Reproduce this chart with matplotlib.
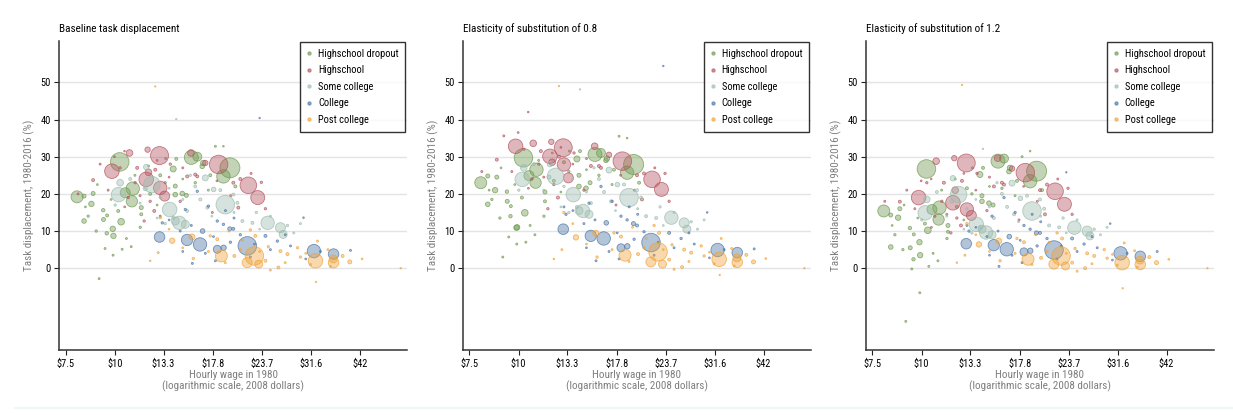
import numpy as np
import matplotlib
matplotlib.use("Agg")
import matplotlib.pyplot as plt
from matplotlib.lines import Line2D
from matplotlib import font_manager

installed = {f.name for f in font_manager.fontManager.ttflist}
narrow = [f for f in ["Liberation Sans Narrow", "Roboto Condensed", "Open Sans Condensed"] if f in installed]
plt.rcParams["font.family"] = narrow + ["Liberation Sans", "DejaVu Sans"]
base = 7.5 if narrow else 6.5

groups = ["Highschool dropout", "Highschool", "Some college", "College", "Post college"]
colors = ["#6e9a4f", "#b5525f", "#9cbcae", "#4a74a5", "#f0a33a"]
titles = ["Baseline task displacement", "Elasticity of substitution of 0.8",
          "Elasticity of substitution of 1.2"]
wage_ticks = [7.5, 10, 13.3, 17.8, 23.7, 31.6, 42]

# log hourly wage 1980, employment share, task displacement (baseline, sigma .8, sigma 1.2)
dropout_wage = [2.081, 2.331, 2.407, 2.402, 2.363, 2.750, 2.785, 2.976, 2.938, 2.339, 2.290, 2.122,
                2.165, 2.122, 2.236, 2.255, 2.294, 2.175, 2.234, 2.257, 2.322, 2.457, 2.457, 2.398,
                2.345, 2.245, 2.662, 2.721, 2.814, 2.891, 2.938, 2.656, 2.656, 2.697, 2.644, 2.820,
                2.210, 2.292, 2.146, 2.193, 2.509, 2.568, 2.597, 2.773, 2.861, 3.008, 2.451,
                2.200, 2.280, 2.420, 2.500, 2.600, 2.700, 2.850, 2.130, 2.370, 2.550]
dropout_emp = [3.6, 8.6, 4.5, 3.2, 2.5, 4.9, 2.0, 10.0, 4.5, 1.1, 0.73, 0.4,
               0.73, 0.53, 0.4, 0.29, 0.73, 0.4, 0.29, 0.22, 0.22, 0.4, 0.22, 0.1,
               0.1, 0.1, 0.22, 0.4, 0.53, 0.1, 0.064, 0.4, 0.53, 0.53, 0.9, 0.73,
               0.1, 0.1, 0.14, 0.14, 0.22, 0.22, 0.14, 0.14, 0.22, 0.22, 0.14,
               0.08, 0.08, 0.1, 0.08, 0.1, 0.08, 0.1, 0.08, 0.1, 0.08]
dropout_base = [19.2, 28.6, 21.4, 18.0, 20.3, 29.8, 30.0, 27.0, 24.7, 12.5, 10.6, 19.4,
                17.3, 12.7, 13.1, 9.4, 8.7, 20.1, 15.6, 14.2, 15.4, 16.3, 14.5, 5.8,
                5.1, 5.3, 29.4, 19.6, 27.4, 32.8, 32.8, 22.1, 19.8, 20.1, 26.7, 28.3,
                -2.8, 3.5, 14.0, 10.0, 20.0, 25.0, 23.0, 23.0, 25.0, 22.0, 11.0,
                22.5, 18.5, 25.0, 27.5, 29.5, 24.0, 21.0, 16.5, 8.0, 17.0]
dropout_s08 = [23.0, 29.7, 26.5, 23.0, 24.9, 30.6, 31.0, 27.9, 25.7, 14.9, 10.9, 24.8,
               21.0, 17.2, 18.0, 14.0, 11.0, 24.5, 20.6, 16.7, 19.0, 20.5, 18.0, 9.0,
               7.0, 8.4, 31.5, 23.0, 29.0, 35.5, 35.0, 25.0, 22.0, 21.5, 29.4, 29.5,
               3.0, 6.5, 18.5, 13.5, 23.5, 28.5, 26.0, 25.0, 26.5, 23.0, 14.0,
               27.0, 22.5, 29.0, 31.0, 31.5, 26.5, 22.5, 21.0, 11.5, 20.5]
dropout_s12 = [15.4, 26.7, 16.3, 13.1, 15.8, 28.8, 29.5, 26.1, 23.4, 10.2, 7.0, 14.3,
               13.6, 5.7, 5.5, 2.4, 3.5, 16.0, 10.8, 9.1, 12.0, 11.5, 9.8, 2.0,
               0.5, -0.2, 27.0, 17.0, 26.0, 30.0, 31.5, 19.5, 18.0, 17.5, 25.2, 27.0,
               -14.3, -6.6, 9.0, 5.0, 16.5, 21.5, 20.0, 21.5, 23.5, 21.0, 8.0,
               17.0, 13.5, 21.0, 24.0, 27.0, 22.0, 19.5, 11.5, 4.0, 13.0]

hs_wage = [2.285, 2.388, 2.564, 2.486, 2.568, 2.594, 2.499, 2.748, 2.910, 3.084, 3.139, 2.494,
           2.832, 2.175, 2.433, 2.533, 2.474, 2.785, 2.539, 2.996, 2.421, 2.726, 2.773, 3.037,
           3.160, 3.025, 2.216, 2.333, 2.627, 2.685, 2.873, 2.380, 2.087, 3.184, 2.509, 2.263,
           2.359, 2.300, 2.450, 2.620, 2.700, 2.900, 2.980, 2.550, 3.100, 2.360]
hs_emp = [5.3, 1.1, 8.1, 5.3, 4.5, 2.5, 1.1, 1.1, 8.6, 6.9, 4.9, 0.73,
          0.73, 0.22, 0.22, 0.22, 0.14, 0.22, 0.22, 0.22, 0.14, 0.22, 0.22, 0.22,
          0.14, 0.22, 0.1, 0.14, 0.14, 0.14, 0.1, 0.14, 0.1, 0.14, 0.14, 0.1,
          0.064, 0.08, 0.1, 0.08, 0.1, 0.08, 0.1, 0.08, 0.1, 0.08]
hs_base = [26.1, 31.0, 30.3, 23.9, 21.6, 19.4, 25.8, 31.0, 27.9, 22.3, 19.0, 31.9,
           28.3, 23.7, 27.0, 15.4, 12.7, 24.7, 26.5, 23.0, 23.0, 24.7, 25.2, 24.0,
           23.1, 16.3, 28.0, 27.0, 28.0, 18.0, 15.0, 19.0, 20.0, 16.0, 18.0, 21.0,
           31.5, 30.0, 19.5, 24.5, 27.0, 23.5, 19.5, 29.0, 25.5, 16.5]
hs_s08 = [32.8, 33.6, 32.4, 30.1, 27.9, 24.3, 28.5, 32.8, 28.8, 23.9, 21.2, 34.0,
          30.5, 29.2, 31.5, 19.0, 16.0, 27.0, 30.0, 25.0, 28.0, 27.5, 27.5, 25.5,
          25.5, 18.5, 35.6, 32.0, 31.0, 21.0, 17.0, 24.0, 26.0, 18.0, 22.5, 26.0,
          42.0, 36.5, 24.5, 28.0, 29.5, 25.0, 21.0, 32.5, 27.0, 21.5]
hs_s12 = [19.0, 28.8, 28.3, 17.6, 15.8, 14.2, 21.0, 29.6, 25.7, 20.7, 17.2, 29.6,
          26.8, 17.9, 23.0, 11.5, 9.5, 22.5, 23.5, 21.0, 18.0, 22.0, 23.0, 22.5,
          21.5, 14.5, 21.0, 23.0, 25.5, 15.5, 13.0, 14.0, 18.0, 14.5, 13.5, 16.0,
          24.0, 23.5, 14.5, 21.0, 24.5, 22.0, 18.0, 25.5, 24.0, 11.0]

sc_wage = [2.324, 2.519, 2.623, 2.680, 2.715, 2.656, 2.949, 3.197, 3.272, 3.288, 2.333, 2.486,
           2.832, 2.881, 2.480, 2.644, 2.773, 2.803, 2.996, 2.844, 3.020, 2.726, 3.049, 3.108,
           3.313, 2.392, 2.568, 2.744, 2.920, 3.131, 2.304, 3.213, 3.389, 2.597, 2.662,
           2.450, 2.620, 2.700, 2.870, 3.000, 3.150, 3.350, 2.550]
sc_emp = [5.3, 6.9, 5.3, 4.5, 1.6, 1.6, 8.6, 4.5, 2.5, 1.6, 1.1, 0.73,
          0.9, 0.53, 0.4, 0.22, 0.22, 0.22, 0.22, 0.22, 0.22, 0.22, 0.22, 0.22,
          0.14, 0.22, 0.14, 0.14, 0.22, 0.14, 0.14, 0.1, 0.1, 0.14, 0.05,
          0.1, 0.08, 0.1, 0.08, 0.1, 0.08, 0.1, 0.08]
sc_base = [19.8, 22.5, 15.8, 12.2, 11.8, 12.7, 17.1, 12.2, 10.9, 9.1, 23.0, 27.2,
           24.3, 21.2, 21.4, 13.6, 22.0, 18.5, 19.8, 16.3, 17.6, 15.4, 12.7, 12.2,
           11.5, 24.0, 19.0, 25.0, 21.0, 15.0, 17.0, 14.0, 12.0, 12.0, 40.1,
           17.5, 21.5, 18.5, 14.0, 15.0, 10.5, 9.5, 13.5]
sc_s08 = [23.9, 24.7, 19.8, 15.4, 14.5, 15.5, 19.0, 13.6, 12.2, 10.5, 27.0, 28.0,
          26.4, 22.5, 24.5, 16.5, 24.0, 20.5, 21.0, 18.0, 19.0, 17.5, 14.0, 13.5,
          12.5, 28.0, 22.0, 27.0, 22.5, 16.5, 21.0, 15.0, 13.0, 15.0, 48.1,
          21.0, 24.0, 20.5, 15.5, 16.0, 11.5, 10.5, 16.5]
sc_s12 = [14.9, 19.8, 11.8, 9.6, 9.0, 10.5, 15.4, 10.9, 10.0, 8.7, 18.5, 24.2,
          22.9, 18.8, 18.0, 11.0, 20.0, 16.5, 18.5, 14.5, 16.0, 13.5, 11.5, 11.0,
          10.5, 20.5, 16.0, 23.0, 19.5, 13.5, 13.0, 13.0, 11.0, 9.5, 32.1,
          14.0, 18.5, 16.5, 12.5, 14.0, 9.5, 9.0, 10.5]

col_wage = [2.564, 2.725, 2.801, 2.902, 3.078, 3.468, 3.583, 2.975, 2.816, 2.939, 2.715, 2.785,
            2.580, 2.850, 2.902, 2.996, 2.938, 3.184, 3.254, 3.407, 2.756, 3.096, 3.213, 2.685,
            3.037, 3.331, 3.506, 2.891, 2.568, 3.682, 2.979, 2.832, 3.150,
            2.620, 2.750, 2.880, 3.000, 3.120, 3.300, 2.700, 3.420, 2.950]
col_emp = [2.8, 3.2, 4.5, 1.6, 8.6, 4.5, 2.8, 0.4, 0.53, 0.73, 0.14, 0.14,
           0.14, 0.14, 0.14, 0.22, 0.14, 0.22, 0.14, 0.064, 0.1, 0.1, 0.1, 0.1,
           0.14, 0.1, 0.1, 0.1, 0.1, 0.1, 0.14, 0.1, 0.05,
           0.08, 0.1, 0.08, 0.1, 0.08, 0.1, 0.08, 0.08, 0.1]
col_base = [8.4, 7.6, 6.4, 5.1, 6.0, 4.6, 3.8, 10.6, 10.0, 5.5, 15.8, 20.7,
            12.2, 16.7, 12.7, 10.6, 11.8, 8.7, 7.3, 13.6, 1.3, 3.0, 5.0, 10.0,
            9.0, 6.0, 4.5, 2.0, 14.0, 4.8, 7.0, 4.0, 40.4,
            13.0, 11.5, 8.5, 13.5, 6.5, 9.0, 4.5, 2.5, 15.5]
col_s08 = [10.5, 8.7, 8.0, 5.5, 6.9, 4.9, 4.2, 12.0, 12.2, 5.9, 17.5, 22.0,
           14.5, 18.0, 14.0, 11.5, 13.0, 9.5, 8.0, 15.0, 2.0, 3.5, 5.5, 12.0,
           9.8, 6.5, 5.0, 2.5, 16.5, 5.2, 7.8, 4.5, 54.4,
           15.5, 13.0, 9.5, 14.5, 7.0, 9.5, 5.5, 2.8, 16.5]
col_s12 = [6.6, 6.2, 5.1, 4.4, 4.9, 4.0, 3.2, 9.5, 8.5, 4.7, 14.0, 19.0,
           10.0, 15.0, 11.5, 9.5, 10.5, 8.0, 6.5, 12.0, 0.5, 2.5, 4.5, 8.5,
           8.0, 5.5, 4.0, 1.5, 11.5, 4.5, 6.0, 3.5, 25.8,
           11.0, 10.0, 7.5, 12.5, 6.0, 8.5, 3.5, 2.2, 14.5]

post_wage = [2.638, 2.754, 2.926, 3.119, 3.077, 3.145, 3.477, 3.583, 3.678, 3.581, 2.539, 3.976,
             2.568, 2.762, 2.556, 2.902, 3.002, 3.096, 3.125, 3.201, 3.272, 3.313, 3.372, 3.489,
             3.636, 3.260, 2.861, 3.389, 3.037, 3.184, 2.949, 3.448, 2.509, 3.565, 3.213, 3.480,
             2.700, 2.850, 2.970, 3.050, 3.150, 3.300, 3.420, 3.550, 3.750, 2.620]
post_emp = [0.73, 0.9, 3.6, 8.6, 2.5, 1.6, 5.3, 2.8, 0.4, 1.6, 0.05, 0.05,
            0.14, 0.14, 0.1, 0.22, 0.22, 0.14, 0.22, 0.14, 0.22, 0.22, 0.14, 0.1,
            0.22, 0.22, 0.14, 0.14, 0.14, 0.22, 0.1, 0.1, 0.064, 0.1, 0.1, 0.05,
            0.08, 0.1, 0.08, 0.1, 0.08, 0.1, 0.08, 0.1, 0.08, 0.08]
post_base = [7.4, 8.4, 3.3, 3.3, 1.5, 1.1, 2.0, 1.5, 1.7, 2.5, 48.9, 0.0,
             13.6, 2.6, 4.2, 7.8, 3.3, 10.3, 8.7, 5.8, 4.6, 3.8, 5.5, 7.3,
             3.3, 0.2, 8.7, 3.0, 5.0, 2.0, 1.5, 1.0, 2.0, 0.5, -0.5, -3.7,
             5.5, 4.5, 10.0, 7.5, 4.5, 1.5, 4.0, 5.0, 2.5, 10.5]
post_s08 = [8.3, 9.4, 3.5, 4.4, 1.7, 1.1, 2.4, 1.6, 1.7, 2.8, 49.0, 0.0,
            15.0, 3.0, 5.0, 8.5, 3.8, 11.5, 9.5, 6.3, 5.0, 4.2, 6.0, 8.0,
            3.6, 0.3, 9.5, 3.3, 5.5, 2.3, 1.8, 1.2, 2.5, 0.6, -0.3, -1.8,
            6.5, 5.0, 11.0, 8.0, 5.0, 1.8, 4.3, 5.3, 2.6, 12.0]
post_s12 = [6.4, 7.3, 2.4, 3.3, 1.1, 0.6, 1.5, 1.0, 1.5, 2.2, 49.3, 0.0,
            12.0, 2.0, 3.5, 7.0, 2.8, 9.5, 8.0, 5.3, 4.0, 3.3, 5.0, 6.8,
            3.0, 0.0, 8.0, 2.7, 4.5, 1.5, 1.0, 0.8, 1.5, 0.3, -0.8, -5.4,
            4.5, 4.0, 9.0, 7.0, 4.0, 1.2, 3.7, 4.7, 2.4, 9.0]

wages = [dropout_wage, hs_wage, sc_wage, col_wage, post_wage]
emps = [dropout_emp, hs_emp, sc_emp, col_emp, post_emp]
scenarios = [
    [dropout_base, hs_base, sc_base, col_base, post_base],
    [dropout_s08, hs_s08, sc_s08, col_s08, post_s08],
    [dropout_s12, hs_s12, sc_s12, col_s12, post_s12],
]

fig = plt.figure(figsize=(12.33, 4.15), dpi=100)
lefts = [59.3, 463, 866]
W, H = 1233.0, 415.0

for k in range(3):
    ax = fig.add_axes([lefts[k] / W, 1 - 350 / H, 347.7 / W, 309.3 / H])
    for g in range(5):
        x = np.array(wages[g])
        y = np.array(scenarios[k][g])
        s = np.array(emps[g]) * 20.7
        order = np.argsort(-s)
        ax.scatter(x[order], y[order], s=s[order], facecolors=matplotlib.colors.to_rgba(colors[g], 0.42),
                   edgecolors=matplotlib.colors.to_rgba(colors[g], 0.75), linewidths=0.6, zorder=3)
    ax.set_xlim(1.977, 4.013)
    ax.set_ylim(-22, 61.2)
    ax.set_yticks([0, 10, 20, 30, 40, 50])
    ax.set_xticks(np.log(wage_ticks))
    ax.set_xticklabels(["\\$" + str(w) for w in wage_ticks])
    ax.tick_params(labelsize=base, length=3.5, width=0.8, pad=2.5, colors="#222222")
    for t in ax.get_yticklabels() + ax.get_xticklabels():
        t.set_color("black")
    for yy in range(0, 51, 10):
        ax.axhline(yy, color="#e4e4e4", lw=1.0, zorder=1)
    ax.spines["top"].set_visible(False)
    ax.spines["right"].set_visible(False)
    ax.spines["left"].set_color("#333333")
    ax.spines["bottom"].set_color("#333333")
    ax.spines["left"].set_linewidth(1.1)
    ax.spines["bottom"].set_linewidth(1.1)
    ax.set_title(titles[k], loc="left", fontsize=base + 0.5, pad=6)
    ax.set_ylabel("Task displacement, 1980-2016 (%)", fontsize=base + 0.5, color="#7f7f7f", labelpad=4)
    ax.set_xlabel("Hourly wage in 1980\n(logarithmic scale, 2008 dollars)", fontsize=base + 0.5,
                  color="#7f7f7f", labelpad=1, linespacing=1.1)
    handles = [Line2D([], [], marker="o", ls="", ms=2.2, color=colors[g], alpha=0.6) for g in range(5)]
    leg = ax.legend(handles, groups, loc="upper right", fontsize=base, frameon=True, fancybox=False,
                    handlelength=0.5, handletextpad=0.6, labelspacing=0.62, borderaxespad=0.15,
                    borderpad=0.65)
    leg.get_frame().set_edgecolor("black")
    leg.get_frame().set_linewidth(1.0)

fig.add_artist(Line2D([15 / W, 1], [1 - 408 / H] * 2, color="#eef3f3", lw=1.2))
fig.savefig("out.png", dpi=100)
